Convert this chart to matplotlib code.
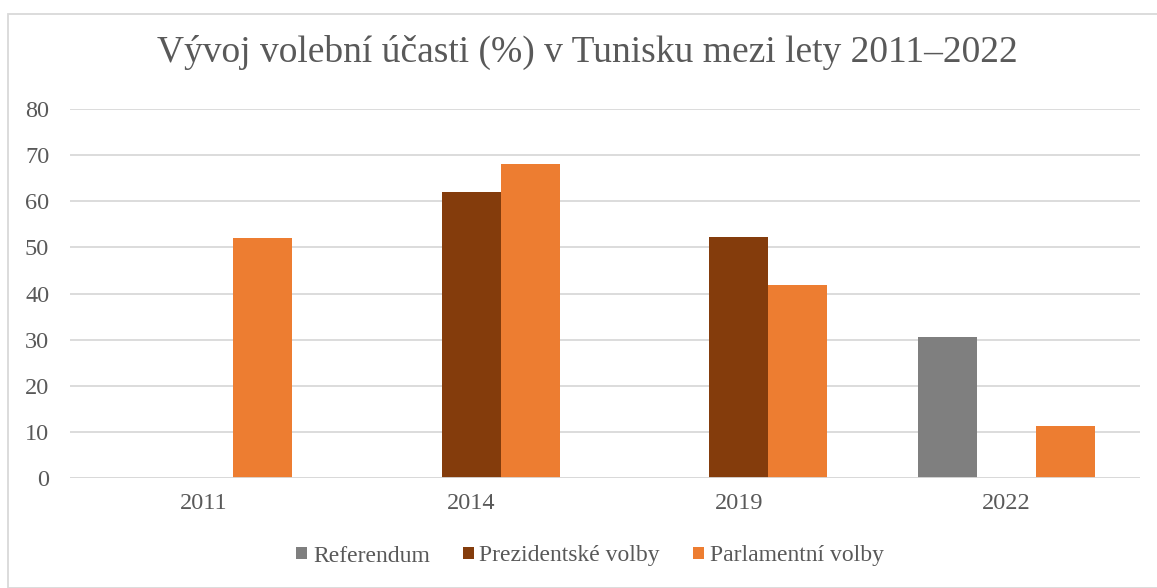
import matplotlib.pyplot as plt
import numpy as np
from matplotlib.patches import Rectangle

years = ["2011", "2014", "2019", "2022"]
series = ["Referendum", "Prezidentské volby", "Parlamentní volby"]
referendum = [0, 0, 0, 30.6]
prezidentske = [0, 62.0, 52.2, 0]
parlamentni = [52.0, 68.1, 41.9, 11.2]
colors = ["#7f7f7f", "#843c0c", "#ed7d31"]
yticks = [0, 10, 20, 30, 40, 50, 60, 70, 80]

TEXT = "#595959"
GRID = "#d9d9d9"

plt.rcParams["font.family"] = ["Liberation Serif", "DejaVu Serif"]

fig = plt.figure(figsize=(11.57, 5.88), dpi=100)
ax = fig.add_axes([70 / 1157, 1 - 478 / 588, 1070 / 1157, 369 / 588])

x = np.arange(len(years))
width = 0.22
for i, (vals, name) in enumerate(zip([referendum, prezidentske, parlamentni], series)):
    ax.bar(x + (i - 1) * width, vals, width, color=colors[i], label=name, zorder=3)

ax.set_xlim(-0.5, len(years) - 0.5)
ax.set_ylim(0, 80)
ax.set_yticks(yticks)
ax.set_xticks(x)
ax.set_xticklabels(years)
ax.yaxis.grid(True, color=GRID, linewidth=1.3, zorder=0)
ax.tick_params(axis="both", length=0, labelsize=17.5, labelcolor=TEXT)
ax.tick_params(axis="y", pad=15)
ax.tick_params(axis="x", pad=11)
for s in ax.spines.values():
    s.set_visible(False)
ax.axhline(0, color=GRID, linewidth=1.3, zorder=4)

fig.text(0.508, 1 - 52 / 588, "Vývoj volební účasti (%) v Tunisku mezi lety 2011–2022",
         ha="center", va="center", fontsize=27, color=TEXT)

fig.legend(loc="center", bbox_to_anchor=(0.51, 1 - 556 / 588), ncol=3, frameon=False,
           fontsize=17, labelcolor=TEXT, handlelength=0.45, handleheight=0.45,
           handletextpad=0.25, columnspacing=1.4)

fig.patches.append(Rectangle((8 / 1157, 0), 1.2, 1 - 14 / 588, transform=fig.transFigure,
                             fill=False, edgecolor=GRID, linewidth=1.3))

fig.savefig("out.png", dpi=100)
